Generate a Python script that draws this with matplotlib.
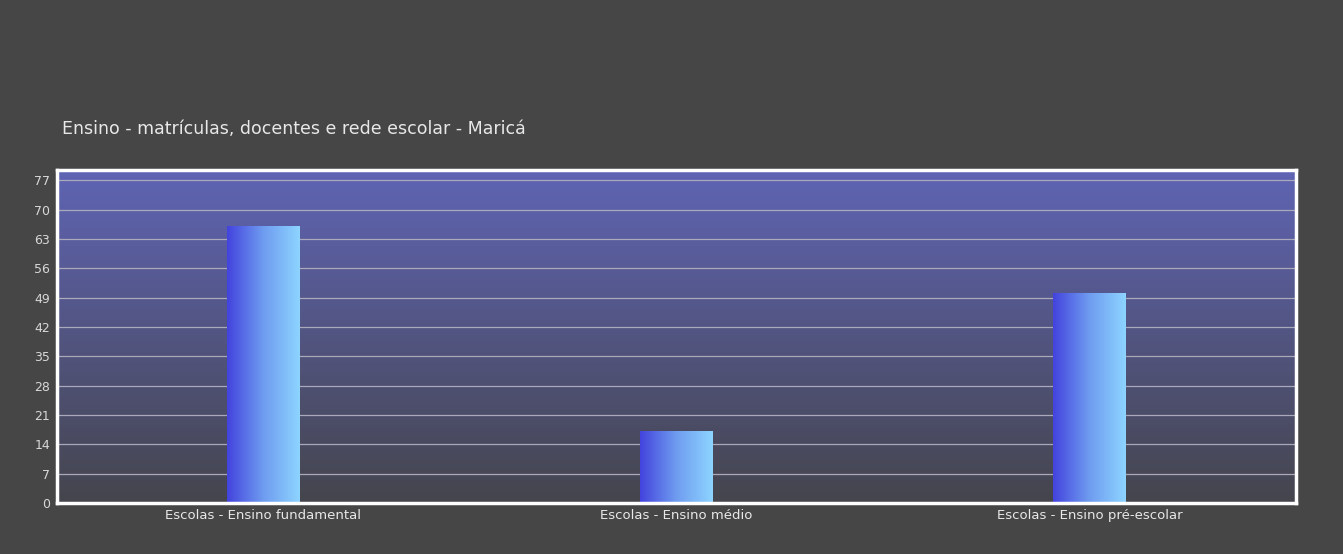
import numpy as np
from matplotlib import pyplot as plt
from matplotlib.colors import LinearSegmentedColormap

TITLE = "Ensino - matrículas, docentes e rede escolar - Maricá"
CATEGORIES = [
    "Escolas - Ensino fundamental",
    "Escolas - Ensino médio",
    "Escolas - Ensino pré-escolar",
]
VALUES = [66, 17, 50]
Y_TICKS = [0, 7, 14, 21, 28, 35, 42, 49, 56, 63, 70, 77]
Y_MAX = 79.5

BG = "#464646"
TEXT = "#e8e8e8"


def main():
    fig = plt.figure(figsize=(13.43, 5.54), dpi=100, facecolor=BG)
    ax = fig.add_axes([0.0424, 0.0921, 0.9226, 0.601])
    ax.set_facecolor(BG)

    x = np.arange(len(VALUES))

    # vertical gradient behind the plot
    plot_cmap = LinearSegmentedColormap.from_list("plot", ["#45454d", "#5f64b4"])
    grad = np.linspace(0, 1, 256).reshape(-1, 1)
    ax.imshow(grad, cmap=plot_cmap, origin="lower", aspect="auto",
              extent=(0, 1, 0, 1), transform=ax.transAxes, zorder=0)

    ax.set_yticks(Y_TICKS)
    ax.grid(axis="y", color="#a9a9bb", linewidth=0.9, zorder=1)
    ax.set_axisbelow(True)

    bars = ax.bar(x, VALUES, width=0.175, color="none", zorder=2)
    bar_cmap = LinearSegmentedColormap.from_list("bar", ["#4343dd", "#6f9cf0", "#8dd4ff"])
    hgrad = np.linspace(0, 1, 256).reshape(1, -1)
    for b in bars:
        x0, y0 = b.get_x(), b.get_y()
        ax.imshow(hgrad, cmap=bar_cmap, aspect="auto",
                  extent=(x0, x0 + b.get_width(), y0, y0 + b.get_height()), zorder=2)

    ax.set_xlim(-0.5, len(VALUES) - 0.5)
    ax.set_ylim(0, Y_MAX)

    ax.set_xticks(x)
    ax.set_xticklabels(CATEGORIES)
    ax.tick_params(axis="x", length=0, pad=4, colors=TEXT, labelsize=9.5)
    ax.tick_params(axis="y", length=0, pad=5, colors="#d8d8d8", labelsize=9)

    for s in ax.spines.values():
        s.set_color("white")
        s.set_linewidth(2.5)

    fig.text(0.046, 0.768, TITLE, color=TEXT, fontsize=12.5, ha="left", va="center")

    fig.savefig("out.png", dpi=100, facecolor=BG)


if __name__ == "__main__":
    main()
